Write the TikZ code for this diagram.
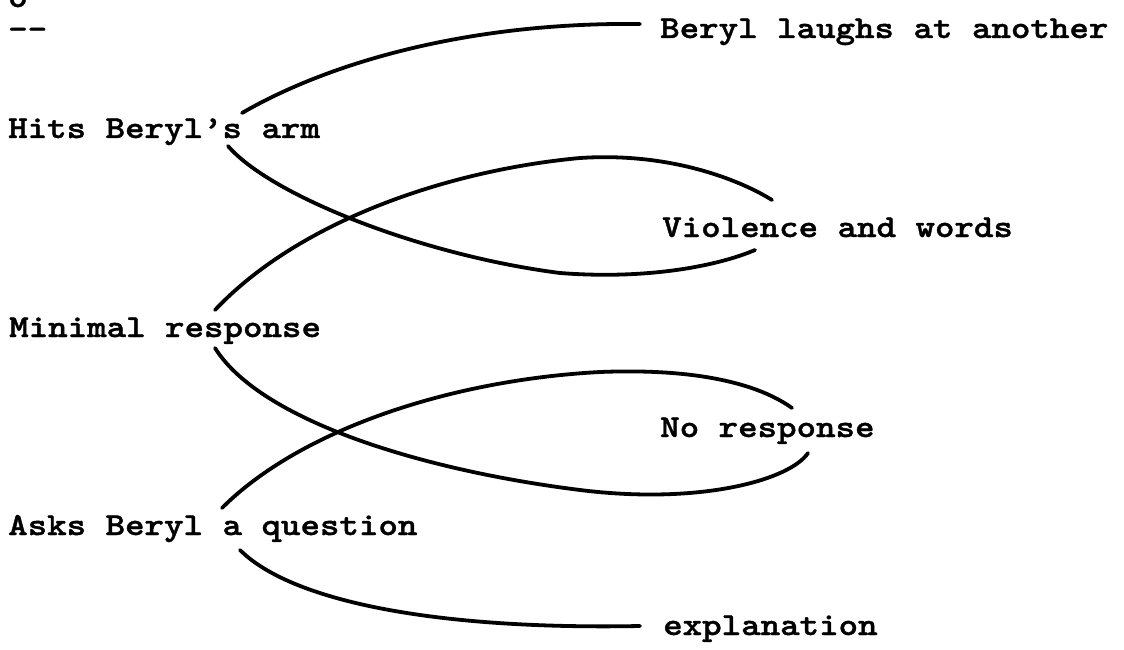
\documentclass[tikz,border=0pt]{standalone}
\usepackage{fontspec}
\usetikzlibrary{calc}
\newfontfamily\tw{lmmonolt10-bold}[Extension=.otf, FakeStretch=1.16, FakeBold=1.2]
\tikzset{
  lbl/.style={anchor=base west, inner sep=0pt, font=\tw\fontsize{32}{34}\selectfont},
  link/.style={line width=3.8pt, line cap=round, line join=round}
}
\begin{document}
\begin{tikzpicture}[x=1pt,y=-1pt]
\useasboundingbox (0,0) rectangle (1124,650);
\node[lbl] (o) at (8,7) {o};
\node[lbl] (dash) at (8,39) {-{}-};
\node[lbl] (hits) at (8,138) {Hits Beryl’s arm};
\node[lbl] (minimal) at (9,337) {Minimal response};
\node[lbl] (asks) at (8,535) {Asks Beryl a question};
\node[lbl] (laugh) at (660,38) {Beryl laughs at another};
\node[lbl] (viol) at (662,237) {Violence and words};
\node[lbl] (nores) at (660,437) {No response};
\node[lbl] (expl) at (663,635) {explanation};

\draw[link] ($(hits.base west)+(234,-25)$) .. controls (330,62) and (470,22) .. ($(laugh.base west)+(-20,-14)$);
\draw[link] ($(hits.base west)+(220,8)$) .. controls (270,195) and (420,255) .. (560,273) .. controls (650,280) and (720,265) .. ($(viol.base west)+(93,13)$);
\draw[link] ($(minimal.base west)+(206,-27)$) .. controls (300,220) and (450,170) .. (580,158) .. controls (670,152) and (740,180) .. ($(viol.base west)+(110,-37)$);
\draw[link] ($(minimal.base west)+(206,11)$) .. controls (260,420) and (420,470) .. (580,490) .. controls (700,505) and (790,480) .. ($(nores.base west)+(148,16)$);
\draw[link] ($(asks.base west)+(214,-27)$) .. controls (300,430) and (450,380) .. (600,372) .. controls (700,368) and (760,385) .. ($(nores.base west)+(132,-29)$);
\draw[link] ($(asks.base west)+(232,15)$) .. controls (290,600) and (430,630) .. ($(expl.base west)+(-23,-9)$);
\end{tikzpicture}
\end{document}
